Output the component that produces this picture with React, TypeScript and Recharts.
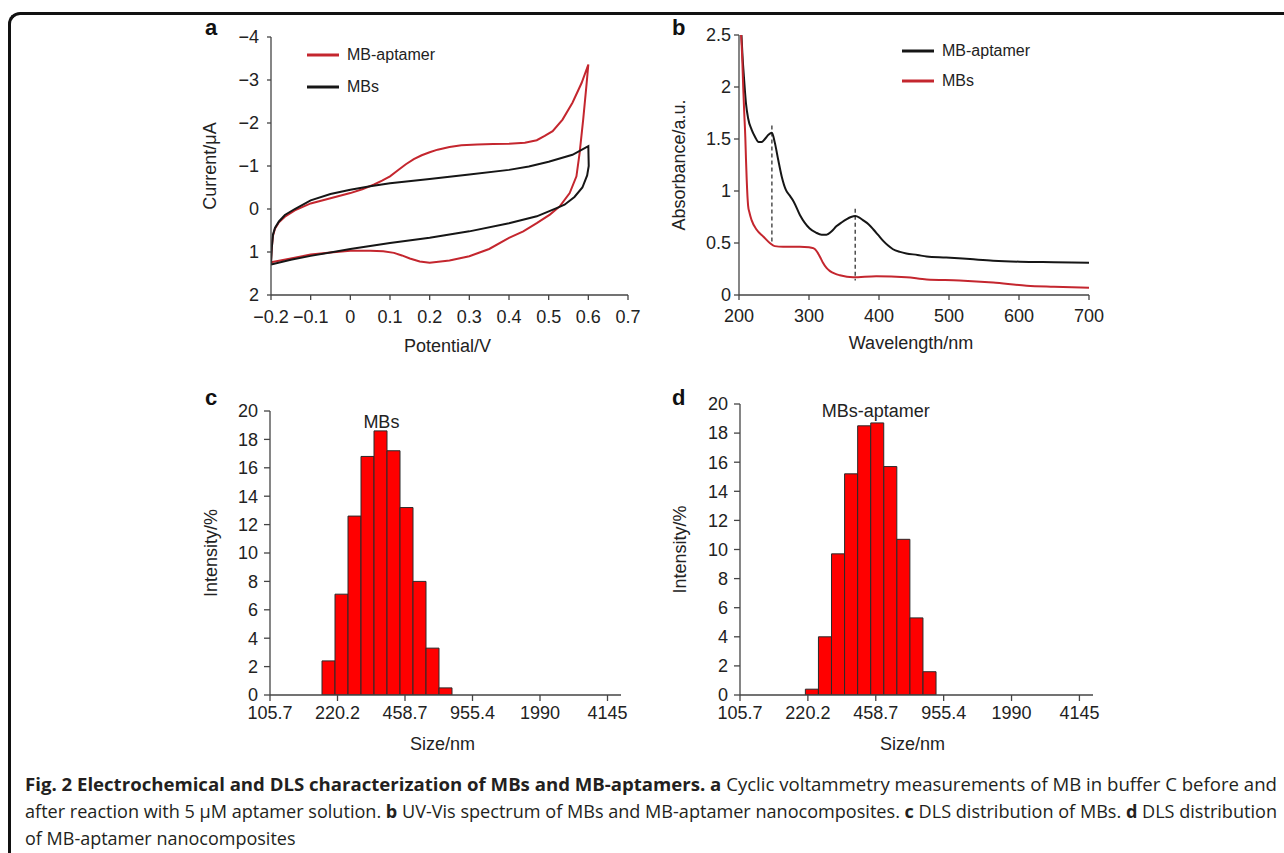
import React from 'react'
import {
  LineChart,
  Line,
  BarChart,
  Bar,
  XAxis,
  YAxis,
  Legend,
  ReferenceLine,
  ReferenceDot,
} from 'recharts'

// a: cyclic voltammetry, [potential V, current µA] (loop: forward scan then return)
const cvAptamer: [number, number][] = [
  [-0.2, 1.22], [-0.198, 0.9], [-0.195, 0.62], [-0.19, 0.46], [-0.18, 0.31], [-0.165, 0.18],
  [-0.14, 0.03], [-0.1, -0.13], [-0.05, -0.25], [0, -0.37], [0.03, -0.46], [0.06, -0.57],
  [0.08, -0.66], [0.1, -0.76], [0.12, -0.9], [0.14, -1.04], [0.16, -1.16], [0.18, -1.25],
  [0.2, -1.32], [0.22, -1.38], [0.25, -1.44], [0.28, -1.48], [0.32, -1.5], [0.36, -1.51],
  [0.4, -1.52], [0.44, -1.54], [0.47, -1.6], [0.49, -1.7], [0.51, -1.81], [0.535, -2.08],
  [0.56, -2.47], [0.583, -2.93], [0.6, -3.36], [0.595, -2.85], [0.587, -2.08], [0.578, -1.3],
  [0.57, -0.76], [0.553, -0.37], [0.528, -0.06], [0.503, 0.13], [0.47, 0.33], [0.436, 0.52],
  [0.4, 0.67], [0.35, 0.93], [0.3, 1.1], [0.25, 1.2], [0.2, 1.25], [0.175, 1.22],
  [0.15, 1.15], [0.13, 1.08], [0.11, 1.02], [0.083, 0.98], [0.05, 0.97], [0, 0.97],
  [-0.05, 1.01], [-0.1, 1.06], [-0.15, 1.15], [-0.2, 1.24],
]
const cvMBs: [number, number][] = [
  [-0.2, 1.29], [-0.198, 0.9], [-0.195, 0.6], [-0.19, 0.44], [-0.18, 0.29], [-0.165, 0.14],
  [-0.14, 0.0], [-0.1, -0.2], [-0.05, -0.35], [0, -0.45], [0.05, -0.53], [0.1, -0.6],
  [0.2, -0.7], [0.3, -0.8], [0.4, -0.91], [0.45, -0.99], [0.5, -1.1], [0.56, -1.26],
  [0.6, -1.46], [0.601, -1.0], [0.597, -0.78], [0.585, -0.5], [0.565, -0.28], [0.54, -0.1],
  [0.52, -0.02], [0.47, 0.17], [0.4, 0.33], [0.3, 0.52], [0.2, 0.67], [0.1, 0.79],
  [0, 0.93], [-0.1, 1.09], [-0.15, 1.18], [-0.2, 1.29],
]
const cvXTicks = [-0.2, -0.1, 0, 0.1, 0.2, 0.3, 0.4, 0.5, 0.6, 0.7]
const cvYTicks = [-4, -3, -2, -1, 0, 1, 2]

// b: UV-Vis spectra, [wavelength nm, absorbance]
const uvAptamer: [number, number][] = [
  [203.5, 2.5], [205, 2.3], [207, 2.1], [210, 1.84], [213, 1.7], [218, 1.59], [223, 1.52],
  [228, 1.47], [232, 1.47], [237, 1.5], [242, 1.54], [247, 1.56], [251, 1.47], [256, 1.3],
  [261, 1.14], [267, 1.01], [272, 0.96], [278, 0.9], [287, 0.77], [301, 0.64], [310, 0.6],
  [318, 0.58], [325, 0.58], [332, 0.61], [339, 0.66], [347, 0.7], [354, 0.73], [360, 0.75],
  [366, 0.76], [372, 0.745], [377, 0.72], [385, 0.68], [392, 0.63], [399, 0.575], [406, 0.52],
  [413, 0.475], [420, 0.44], [430, 0.415], [439, 0.4], [455, 0.385], [468, 0.37], [496, 0.36],
  [530, 0.345], [563, 0.33], [601, 0.32], [650, 0.315], [700, 0.31],
]
const uvMBs: [number, number][] = [
  [203, 2.5], [204.5, 2.3], [206, 2.0], [207.5, 1.75], [209, 1.52], [210, 1.3], [211, 1.11],
  [213, 0.86], [215, 0.79], [218, 0.72], [225, 0.63], [235, 0.56], [244, 0.5], [251, 0.47],
  [263, 0.465], [287, 0.465], [300, 0.46], [306, 0.45], [310, 0.43], [313, 0.4], [317, 0.35],
  [320, 0.31], [325, 0.26], [330, 0.23], [337, 0.205], [344, 0.19], [363, 0.17], [396, 0.18],
  [439, 0.17], [468, 0.15], [515, 0.14], [563, 0.12], [611, 0.09], [650, 0.08], [700, 0.07],
]
// dashed peak markers: [wavelength, top, bottom]
const uvPeaks: [number, number, number][] = [
  [247, 1.63, 0.49],
  [366, 0.83, 0.14],
]
const uvXTicks = [200, 300, 400, 500, 600, 700]
const uvYTicks = [0, 0.5, 1, 1.5, 2, 2.5]

// c, d: DLS size distributions, 27 log-spaced bins (5 bins per tick)
const sizeTickBins = [0, 5, 10, 15, 20, 25]
const sizeTickLabels = ['105.7', '220.2', '458.7', '955.4', '1990', '4145']
const dlsMBs = [0, 0, 0, 0, 2.4, 7.1, 12.6, 16.8, 18.6, 17.2, 13.2, 8.0, 3.3, 0.5, 0, 0, 0, 0, 0, 0, 0, 0, 0, 0, 0, 0, 0]
const dlsAptamer = [0, 0, 0, 0, 0, 0.4, 4.0, 9.7, 15.2, 18.5, 18.7, 15.7, 10.7, 5.3, 1.6, 0, 0, 0, 0, 0, 0, 0, 0, 0, 0, 0, 0]
const intensityTicks = [0, 2, 4, 6, 8, 10, 12, 14, 16, 18, 20]

const RED = '#c4262e'
const BLACK = '#161616'
const AXIS = '#444'
const TEXT = '#222'
const FONT = "'Liberation Sans', Arial, sans-serif"

const pts = (arr: [number, number][]) => arr.map(([x, y]) => ({ x, y }))
const minus = (v: number) => String(v).replace('-', '\u2212')

const tick = { fontSize: 18, fill: TEXT }
const axisLine = { stroke: AXIS, strokeWidth: 1.3 }

function LegendRows({ payload, rowHeight }: { payload?: any[]; rowHeight: number }) {
  return (
    <div>
      {(payload ?? []).map((p) => (
        <div key={p.value} style={{ display: 'flex', alignItems: 'center', height: rowHeight }}>
          <svg width={32} height={4}>
            <line x1={0} y1={2} x2={32} y2={2} stroke={p.color} strokeWidth={3} />
          </svg>
          <span style={{ marginLeft: 8, fontSize: 16, color: TEXT, fontFamily: FONT }}>{p.value}</span>
        </div>
      ))}
    </div>
  )
}

function PanelCV() {
  return (
    <LineChart width={460} height={340} margin={{ top: 17, right: 22, bottom: 5, left: 0 }}>
      <XAxis
        type="number"
        dataKey="x"
        domain={[-0.2, 0.7]}
        ticks={cvXTicks}
        allowDataOverflow
        tickFormatter={minus}
        tick={tick}
        tickSize={5}
        tickMargin={10}
        axisLine={axisLine}
        tickLine={axisLine}
        height={60}
        label={{ value: 'Potential/V', position: 'insideBottom', offset: 3, dx: -2, fontSize: 18, fill: TEXT }}
      />
      <YAxis
        type="number"
        dataKey="y"
        reversed
        domain={[-4, 2]}
        ticks={cvYTicks}
        allowDataOverflow
        tickFormatter={minus}
        tick={tick}
        tickSize={4}
        tickMargin={8}
        axisLine={axisLine}
        tickLine={axisLine}
        width={81}
        label={{
          value: 'Current/\u03bcA',
          angle: -90,
          position: 'insideLeft',
          offset: 20,
          fontSize: 18,
          fill: TEXT,
          style: { textAnchor: 'middle' },
        }}
      />
      <Line data={pts(cvAptamer)} dataKey="y" name="MB-aptamer" type="linear" stroke={RED} strokeWidth={2} dot={false} isAnimationActive={false} />
      <Line data={pts(cvMBs)} dataKey="y" name="MBs" type="linear" stroke={BLACK} strokeWidth={2} dot={false} isAnimationActive={false} />
      <Legend
        layout="vertical"
        align="center"
        verticalAlign="middle"
        wrapperStyle={{ left: 117, top: 19, width: 'auto' }}
        content={(props: any) => <LegendRows payload={props.payload} rowHeight={31.7} />}
      />
    </LineChart>
  )
}

function PanelUV() {
  return (
    <LineChart width={460} height={340} margin={{ top: 15, right: 31, bottom: 5, left: 0 }}>
      <XAxis
        type="number"
        dataKey="x"
        domain={[200, 700]}
        ticks={uvXTicks}
        allowDataOverflow
        tick={tick}
        tickSize={5}
        tickMargin={9}
        axisLine={axisLine}
        tickLine={axisLine}
        height={60}
        label={{ value: 'Wavelength/nm', position: 'insideBottom', offset: 6, dx: -3, fontSize: 18, fill: TEXT }}
      />
      <YAxis
        type="number"
        dataKey="y"
        domain={[0, 2.5]}
        ticks={uvYTicks}
        allowDataOverflow
        tick={tick}
        tickSize={5}
        tickMargin={3}
        axisLine={axisLine}
        tickLine={axisLine}
        width={79}
        label={{
          value: 'Absorbance/a.u.',
          angle: -90,
          position: 'insideLeft',
          offset: 19,
          fontSize: 18,
          fill: TEXT,
          style: { textAnchor: 'middle' },
        }}
      />
      {uvPeaks.map(([wl, top, bottom]) => (
        <ReferenceLine
          key={wl}
          segment={[{ x: wl, y: top }, { x: wl, y: bottom }]}
          stroke="#333"
          strokeWidth={1.3}
          strokeDasharray="4 3"
        />
      ))}
      <Line data={pts(uvAptamer)} dataKey="y" name="MB-aptamer" type="monotone" stroke={BLACK} strokeWidth={2} dot={false} isAnimationActive={false} />
      <Line data={pts(uvMBs)} dataKey="y" name="MBs" type="monotone" stroke={RED} strokeWidth={2} dot={false} isAnimationActive={false} />
      <Legend
        layout="vertical"
        align="center"
        verticalAlign="middle"
        wrapperStyle={{ left: 242, top: 16, width: 'auto' }}
        content={(props: any) => <LegendRows payload={props.payload} rowHeight={30} />}
      />
    </LineChart>
  )
}

function PanelDLS({
  values,
  title,
  titleBin,
  titleY,
  top,
  right,
  xLabelDx,
  yLabelOffset,
}: {
  values: number[]
  title: string
  titleBin: number
  titleY: number
  top: number
  right: number
  xLabelDx: number
  yLabelOffset: number
}) {
  const data = values.map((v, i) => ({ bin: i, intensity: v }))
  return (
    <BarChart width={460} height={380} data={data} barCategoryGap={0} barGap={0} margin={{ top, right, bottom: 5, left: 0 }}>
      <XAxis xAxisId="bins" dataKey="bin" type="category" hide height={0} />
      <XAxis
        xAxisId="num"
        type="number"
        domain={[0, 27]}
        ticks={sizeTickBins}
        allowDataOverflow
        tickFormatter={(v: number) => sizeTickLabels[sizeTickBins.indexOf(v)]}
        tick={tick}
        tickSize={6}
        tickMargin={5}
        axisLine={axisLine}
        tickLine={axisLine}
        height={60}
        label={{ value: 'Size/nm', position: 'insideBottom', offset: 5, dx: xLabelDx, fontSize: 18, fill: TEXT }}
      />
      <YAxis
        domain={[0, 20]}
        ticks={intensityTicks}
        allowDataOverflow
        tick={tick}
        tickSize={6}
        tickMargin={6}
        axisLine={axisLine}
        tickLine={axisLine}
        width={80}
        label={{
          value: 'Intensity/%',
          angle: -90,
          position: 'insideLeft',
          offset: yLabelOffset,
          fontSize: 18,
          fill: TEXT,
          style: { textAnchor: 'middle' },
        }}
      />
      <Bar xAxisId="bins" dataKey="intensity" fill="#ff0000" stroke="#2a2a2a" strokeWidth={1} isAnimationActive={false} />
      <ReferenceDot
        xAxisId="num"
        x={titleBin}
        y={titleY}
        r={0}
        fill="none"
        stroke="none"
        label={{ value: title, position: 'center', fontSize: 18, fill: TEXT }}
      />
    </BarChart>
  )
}

export default function App() {
  const chartBox = (left: number, top: number): React.CSSProperties => ({
    position: 'absolute',
    left,
    top,
    fontFamily: FONT,
  })
  return (
    <div
      style={{
        position: 'absolute',
        left: 0,
        top: 0,
        width: 1284,
        height: 853,
        overflow: 'hidden',
        background: '#fff',
        fontFamily: FONT,
      }}
    >
      <div
        style={{
          position: 'absolute',
          left: 8,
          top: 12,
          width: 1300,
          height: 900,
          borderLeft: '3px solid #111',
          borderTop: '3px solid #111',
          borderTopLeftRadius: 12,
          boxSizing: 'border-box',
        }}
      />
      <div style={chartBox(190, 20)}>
        <PanelCV />
      </div>
      <div style={chartBox(660, 20)}>
        <PanelUV />
      </div>
      <div style={chartBox(190, 380)}>
        <PanelDLS values={dlsMBs} title="MBs" titleBin={8.25} titleY={19.23} top={31} right={29} xLabelDx={-3} yLabelOffset={20.5} />
      </div>
      <div style={chartBox(660, 380)}>
        <PanelDLS values={dlsAptamer} title="MBs-aptamer" titleBin={10} titleY={19.56} top={24} right={27} xLabelDx={-4} yLabelOffset={20} />
      </div>
      <svg width={1284} height={853} style={{ position: 'absolute', left: 0, top: 0, pointerEvents: 'none' }}>
        <g fontFamily={FONT} fontWeight="bold" fontSize={22} fill="#111">
          <text x={205} y={35}>a</text>
          <text x={672} y={35}>b</text>
          <text x={205} y={405}>c</text>
          <text x={672} y={405}>d</text>
        </g>
        <g fontFamily="'Open Sans', sans-serif" fontSize={18} fill="#231f20">
          <text x={25} y={791} textLength={1252} lengthAdjust="spacingAndGlyphs">
            <tspan fontWeight="bold">{'Fig. 2 Electrochemical and DLS characterization of MBs and MB-aptamers. a'}</tspan>
            <tspan>{' Cyclic voltammetry measurements of MB in buffer C before and'}</tspan>
          </text>
          <text x={25} y={818} textLength={1252} lengthAdjust="spacingAndGlyphs">
            <tspan>{'after reaction with 5 \u03bcM aptamer solution. '}</tspan>
            <tspan fontWeight="bold">b</tspan>
            <tspan>{' UV-Vis spectrum of MBs and MB-aptamer nanocomposites. '}</tspan>
            <tspan fontWeight="bold">c</tspan>
            <tspan>{' DLS distribution of MBs. '}</tspan>
            <tspan fontWeight="bold">d</tspan>
            <tspan>{' DLS distribution'}</tspan>
          </text>
          <text x={25} y={845}>of MB-aptamer nanocomposites</text>
        </g>
      </svg>
    </div>
  )
}
